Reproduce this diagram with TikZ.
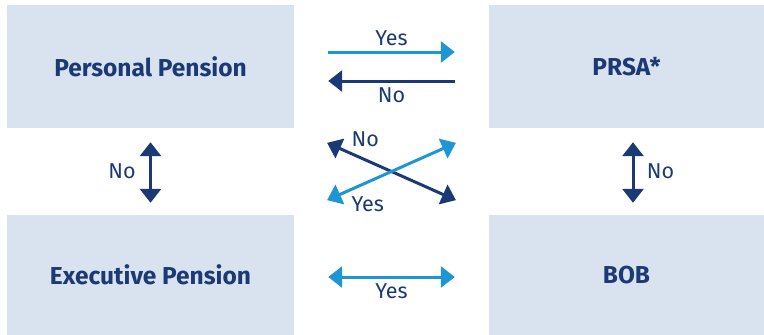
\documentclass[tikz,border=0pt]{standalone}
\usepackage{fontspec}
\setmainfont{Fira Sans}
\usetikzlibrary{arrows.meta}
\definecolor{navy}{HTML}{1B3A75}
\definecolor{sky}{HTML}{1E96D4}
\definecolor{panel}{HTML}{D9E3EF}
\begin{document}
\begin{tikzpicture}[x=1pt,y=-1pt,
    box/.style={fill=panel,text=navy,inner sep=0pt,
      font=\fontsize{24.5}{29}\selectfont\bfseries},
    lbl/.style={text=navy,font=\fontsize{21.5}{26}\selectfont},
    tip/.style={line width=3pt,-{Triangle[length=14pt,width=21pt]}},
    both/.style={line width=3pt,{Triangle[length=14pt,width=21pt]}-{Triangle[length=14pt,width=21pt]}},
    gap/.style={shorten <=34pt,shorten >=34pt}]
  \useasboundingbox (0,0) rectangle (764,335);
  % the four schemes
  \node[box,minimum width=287pt,minimum height=123pt] (pp) at (150.5,66.5) {Personal Pension};
  \node[box,minimum width=275pt,minimum height=123pt] (prsa) at (626.5,66.5) {PRSA*};
  \node[box,minimum width=287pt,minimum height=120pt] (exec) at (150.5,275) {Executive Pension};
  \node[box,minimum width=275pt,minimum height=120pt] (bob) at (626.5,275) {BOB};
  % transfers across
  \draw[tip,gap,sky] ([yshift=14.5pt]pp.east) -- ([yshift=14.5pt]prsa.west)
    node[lbl,midway,above,inner sep=5pt] {Yes};
  \draw[tip,gap,navy] ([yshift=-14.5pt]prsa.west) -- ([yshift=-14.5pt]pp.east)
    node[lbl,midway,below,inner sep=5pt] {No};
  \draw[both,gap,sky] ([yshift=-2pt]exec.east) -- ([yshift=-2pt]bob.west)
    node[lbl,midway,below,inner sep=5pt] {Yes};
  % transfers up and down
  \draw[both,navy,shorten <=14pt,shorten >=12pt] (pp.south) -- (exec.north)
    node[lbl,midway,left=10pt] {No};
  \draw[both,navy,shorten <=14pt,shorten >=12pt] ([xshift=6.5pt]prsa.south) -- ([xshift=6.5pt]bob.north)
    node[lbl,midway,right=9pt] {No};
  % transfers on the diagonal
  \draw[both,navy,shorten <=36pt,shorten >=36pt] (pp.south east) -- (bob.north west)
    node[lbl,pos=0.27,anchor=south west] {No};
  \draw[both,sky,shorten <=36pt,shorten >=36pt] (exec.north east) -- (prsa.south west)
    node[lbl,pos=0.27,anchor=north west] {Yes};
\end{tikzpicture}
\end{document}
